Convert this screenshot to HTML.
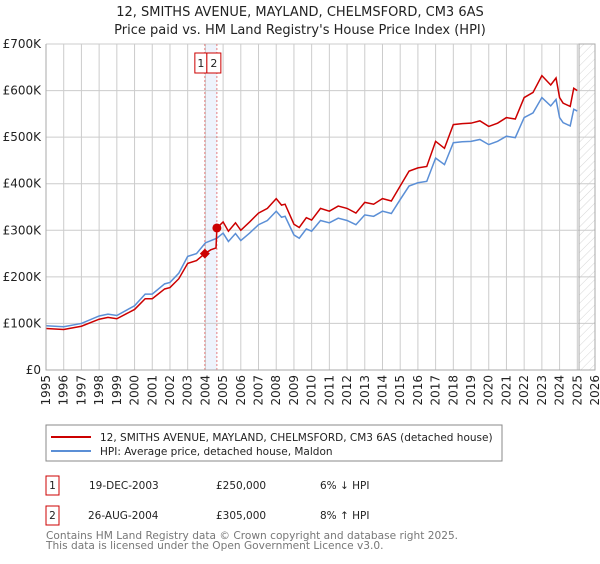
<!DOCTYPE html>
<html><head><meta charset="utf-8"><style>
body{margin:0;background:#fff;font-family:"DejaVu Sans","Liberation Sans",sans-serif;}
</style></head><body>
<svg id="chart" width="600" height="560" xmlns="http://www.w3.org/2000/svg" font-family="DejaVu Sans, Liberation Sans, sans-serif">
<defs><pattern id="hatch" width="6" height="6" patternUnits="userSpaceOnUse" patternTransform="rotate(45)"><line x1="0" y1="0" x2="0" y2="6" stroke="#ccc" stroke-width="0.8"/></pattern></defs>
<text x="300" y="16" text-anchor="middle" font-size="13" fill="#222">12, SMITHS AVENUE, MAYLAND, CHELMSFORD, CM3 6AS</text>
<text x="300" y="34" text-anchor="middle" font-size="13" fill="#222">Price paid vs. HM Land Registry's House Price Index (HPI)</text>
<g id="grid"></g>
<g id="marks"></g>
<g id="axes"></g>
<rect x="46" y="425" width="456" height="36" fill="#fff" stroke="#888"/>
<line x1="51" y1="437" x2="91" y2="437" stroke="#cc0000" stroke-width="2"/>
<text x="100" y="441" font-size="10.5" fill="#222">12, SMITHS AVENUE, MAYLAND, CHELMSFORD, CM3 6AS (detached house)</text>
<line x1="51" y1="451" x2="91" y2="451" stroke="#5b8fd6" stroke-width="2"/>
<text x="100" y="455" font-size="10.5" fill="#222">HPI: Average price, detached house, Maldon</text>
<g>
<rect x="46" y="476" width="13" height="19" fill="#fff" stroke="#cc0000"/>
<text x="52.5" y="489" text-anchor="middle" font-size="10.5" fill="#222">1</text>
<text x="89" y="489" font-size="10.5" fill="#222">19-DEC-2003</text>
<text x="216" y="489" font-size="10.5" fill="#222">£250,000</text>
<text x="320" y="489" font-size="10.5" fill="#222">6% ↓ HPI</text></g>
<g>
<rect x="46" y="506" width="13" height="19" fill="#fff" stroke="#cc0000"/>
<text x="52.5" y="519" text-anchor="middle" font-size="10.5" fill="#222">2</text>
<text x="88" y="519" font-size="10.5" fill="#222">26-AUG-2004</text>
<text x="216" y="519" font-size="10.5" fill="#222">£305,000</text>
<text x="320" y="519" font-size="10.5" fill="#222">8% ↑ HPI</text></g>
<text x="46" y="539" font-size="10.6" fill="#777">Contains HM Land Registry data © Crown copyright and database right 2025.</text>
<text x="46" y="549" font-size="10.6" fill="#777">This data is licensed under the Open Government Licence v3.0.</text>
</svg>
<script>
const hpiYears=[1995,1996,1997,1998,1998.5,1999,2000,2000.6,2001,2001.7,2002,2002.5,2003,2003.5,2004,2004.65,2005,2005.3,2005.7,2006,2006.5,2007,2007.5,2008,2008.3,2008.5,2009,2009.3,2009.7,2010,2010.5,2011,2011.5,2012,2012.5,2013,2013.5,2014,2014.5,2015,2015.5,2016,2016.5,2017,2017.5,2018,2018.5,2019,2019.5,2020,2020.5,2021,2021.5,2022,2022.5,2023,2023.5,2023.8,2024,2024.2,2024.6,2024.8,2025];
const hpiValues=[95,93,100,116,120,117,138,163,163,185,188,208,244,250,273,283,294,276,293,278,294,312,321,341,328,330,290,283,303,298,321,316,326,321,312,333,330,341,336,366,395,402,405,455,441,488,490,491,495,484,491,502,499,542,552,585,567,581,542,531,524,560,556];
const priceYears=[1995,1996,1997,1998,1998.5,1999,2000,2000.6,2001,2001.7,2002,2002.5,2003,2003.5,2003.97,2004.3,2004.6,2004.65,2005,2005.3,2005.7,2006,2006.5,2007,2007.5,2008,2008.3,2008.5,2009,2009.3,2009.7,2010,2010.5,2011,2011.5,2012,2012.5,2013,2013.5,2014,2014.5,2015,2015.5,2016,2016.5,2017,2017.5,2018,2018.5,2019,2019.5,2020,2020.5,2021,2021.5,2022,2022.5,2023,2023.5,2023.8,2024,2024.2,2024.6,2024.8,2025];
const priceValues=[89,87,94,109,113,110,130,153,153,174,177,196,229,235,250,258,262,305,318,298,316,300,318,337,347,368,354,356,313,306,327,322,347,341,352,347,337,360,356,368,363,395,427,434,437,491,476,527,529,530,535,523,530,542,539,585,596,632,612,627,585,573,566,605,600];
const saleYears=[2003.97,2004.65];
const saleValues=[250,305];
const saleLabels=["1","2"];
const yTicks=[0,100,200,300,400,500,600,700];
const yTickLabels=["£0","£100K","£200K","£300K","£400K","£500K","£600K","£700K"];
const xTicks=[1995,1996,1997,1998,1999,2000,2001,2002,2003,2004,2005,2006,2007,2008,2009,2010,2011,2012,2013,2014,2015,2016,2017,2018,2019,2020,2021,2022,2023,2024,2025,2026];
const forecastStart=2025.1;

const L=46,R=595,T=44,B=370;
const xs=y=>L+(y-1995)/(2026-1995)*(R-L);
const ys=v=>B-v/700*(B-T);
const NS="http://www.w3.org/2000/svg";
function mk(tag,attrs,parent){const e=document.createElementNS(NS,tag);for(const k in attrs)e.setAttribute(k,attrs[k]);parent.appendChild(e);return e;}
const grid=document.getElementById('grid'),marks=document.getElementById('marks'),axes=document.getElementById('axes');

let sh=mk('rect',{x:xs(saleYears[0]),y:T,width:xs(saleYears[1])-xs(saleYears[0]),height:B-T,fill:'#eef3fc'},grid);


xTicks.forEach(t=>{const l=mk('line',{x1:xs(t),x2:xs(t),y1:T,y2:B,stroke:'#ccc','stroke-width':1},grid);


const tx=mk('text',{x:0,y:0,'font-size':12,fill:'#222','text-anchor':'end',transform:`translate(${xs(t)+4},375) rotate(-90)`},axes);tx.textContent=t;

});
yTicks.forEach((t,i)=>{const l=mk('line',{x1:L,x2:R,y1:ys(t),y2:ys(t),stroke:'#ccc','stroke-width':1},grid);


const tx=mk('text',{x:L-5,y:ys(t)+4,'font-size':12,fill:'#222','text-anchor':'end'},axes);tx.textContent=yTickLabels[i];

});
const fc=mk('rect',{x:xs(forecastStart),y:T,width:R-xs(forecastStart),height:B-T,fill:'url(#hatch)',stroke:'#aaa'},grid);


const ax=mk('path',{d:`M${L},${T}V${B}H${R}`,fill:'none',stroke:'#aaa'},axes);



saleYears.forEach((s,i)=>{const l=mk('line',{x1:xs(s),x2:xs(s),y1:T,y2:B,stroke:'#e06060','stroke-dasharray':'2,2','stroke-width':0.8},marks);

});

const hp=mk('polyline',{points:hpiYears.map((y,i)=>xs(y)+','+ys(hpiValues[i])).join(' '),fill:'none',stroke:'#5b8fd6','stroke-width':1.5},marks);


const pp=mk('polyline',{points:priceYears.map((y,i)=>xs(y)+','+ys(priceValues[i])).join(' '),fill:'none',stroke:'#cc0000','stroke-width':1.5},marks);



const boxSplit=xs(saleYears[0])+2;
saleYears.forEach((s,i)=>{const cx=xs(s),cy=ys(saleValues[i]);let m;
if(i===0)m=mk('path',{d:`M${cx},${cy-5}L${cx+5},${cy}L${cx},${cy+5}L${cx-5},${cy}Z`,fill:'#cc0000'},marks);
else m=mk('circle',{cx:cx,cy:cy,r:4.5,fill:'#cc0000'},marks);


const bw=i===0?12:14;
const bx=i===0?boxSplit-12:boxSplit;
const b=mk('rect',{x:bx,y:53,width:bw,height:20,fill:'#fff',stroke:'#cc0000'},marks);


const t=mk('text',{x:bx+bw/2,y:67,'text-anchor':'middle','font-size':11,fill:'#222'},marks);t.textContent=saleLabels[i];

});
</script>
</body></html>
